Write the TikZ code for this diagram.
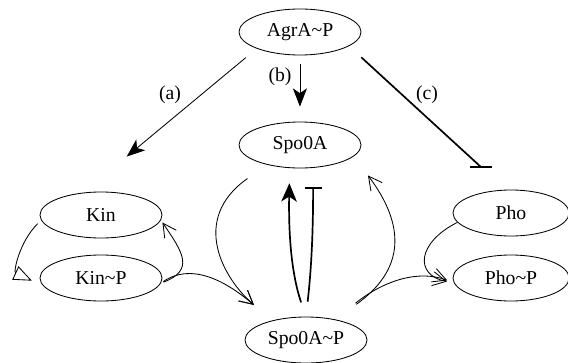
\documentclass[tikz,border=0pt]{standalone}
\usepackage{fontspec}
\setmainfont{Liberation Serif}
\usepackage{tikz}
\usetikzlibrary{shapes.geometric,arrows.meta}

\begin{document}
\begin{tikzpicture}[scale=0.025]
\tikzstyle{every node}+=[inner sep=0pt,font=\fontsize{14}{16}\selectfont]
\tikzstyle{state}=[draw,ellipse,line width=0.6pt,minimum width=3.05cm,minimum height=1.15cm]
\tikzstyle{pstate}=[state,minimum width=2.9cm]
\tikzstyle{edge}=[line width=0.6pt]
\tikzstyle{act}=[edge,-{Stealth[length=13pt,width=10pt,inset=3.5pt]}]
\tikzstyle{conv}=[edge,-{Straight Barb[length=9.5pt,width=10pt]}]
\tikzstyle{convopen}=[edge,-{Triangle[open,length=13pt,width=10.5pt]}]
\tikzstyle{thickact}=[line width=1.2pt,-{Stealth[length=13pt,width=11pt,inset=3.5pt]}]
\tikzstyle{inhib}=[line width=1.2pt]
\useasboundingbox (0,0) rectangle (568,-363);
\node[state] (agra) at (300,-32) {AgrA\textasciitilde P};
\node[state] (spo) at (300,-145) {Spo0A};
\node[state] (kin) at (101,-215) {Kin};
\node[state] (kinp) at (101,-278) {Kin\textasciitilde P};
\node[pstate] (pho) at (511,-213) {Pho};
\node[pstate] (phop) at (511,-278) {Pho\textasciitilde P};
\node[state] (spop) at (306,-340) {Spo0A\textasciitilde P};
\draw[act,shorten <=10pt,shorten >=40pt] (agra.201) -- (kin.128);
\draw (170,-95) node (la) {(a)};
\draw[act,shorten <=6.4pt,shorten >=10.6pt] (agra.south) -- (spo.north);
\draw (280,-77) node (lb) {(b)};
\coordinate (cstop) at (481,-167);
\draw[inhib,shorten <=11.8pt] (agra.344) -- (cstop);
\draw[inhib] (cstop) ++(-11,0) -- ++(22,0);
\draw (427,-95) node (lc) {(c)};
\draw[convopen,shorten <=3.5pt,shorten >=9pt] (kin.185) .. controls +(-22,-22) and +(-30,14) .. (kinp.188);
\draw[conv,shorten <=2pt,shorten >=2pt] (kinp.355) .. controls +(34,13) and +(22,-32) .. (kin.355);
\draw[conv,shorten <=2pt,shorten >=17pt] (kinp.355) .. controls +(34,23) and +(-40,34) .. (spop.150);
\draw[conv,shorten <=17pt,shorten >=17pt] (spo.211) .. controls +(-78,-55) and +(-48,41) .. (spop.150);
\draw[thickact,shorten <=10.6pt,shorten >=10.8pt] (spop.north) .. controls +(-16,47) and +(-1,-57) .. (spo.246);
\draw[inhib,-{Bar[width=12pt]},shorten <=10.6pt,shorten >=13.8pt] (spop.north) .. controls +(6,52) and +(0,-57) .. (spo.300);
\draw[conv,shorten <=18.4pt,shorten >=17pt] (spop.35) .. controls +(70,50) and +(52,-69) .. (spo.348);
\draw[conv,shorten <=18.4pt,shorten >=5pt] (spop.35) .. controls +(50,40) and +(-34,13) .. (phop.185);
\draw[conv,shorten >=5pt] (pho.190) .. controls +(-40,-20) and +(-40,8) .. (phop.185);
\end{tikzpicture}
\end{document}
